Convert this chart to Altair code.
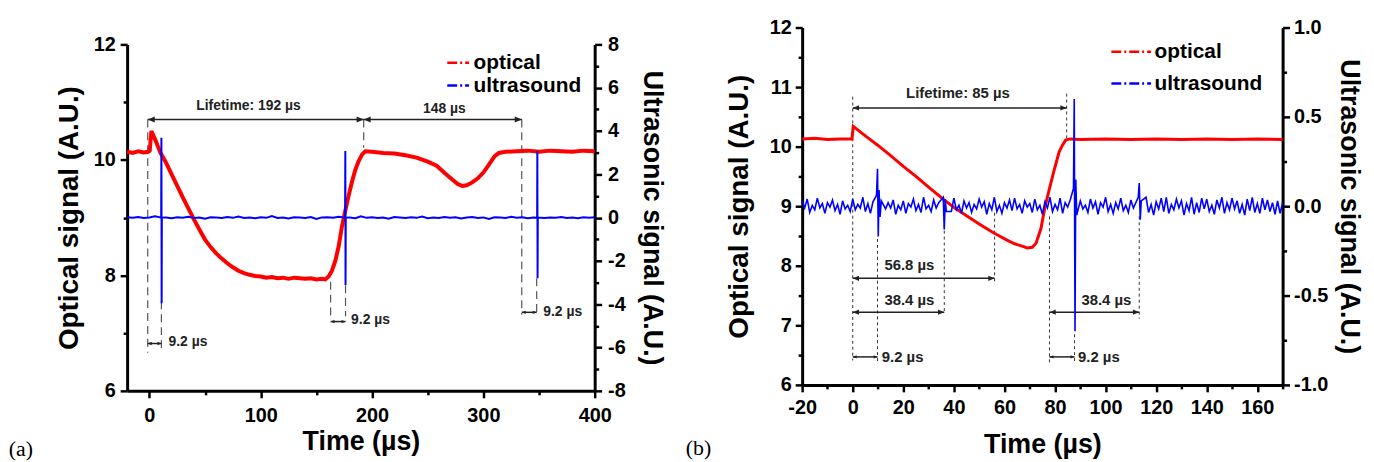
import altair as alt
import pandas as pd

FONT = "Liberation Sans"
SERIF = "Liberation Serif"

# ---------------- Panel (a) data ----------------
a_opt_t = [-20, -15, -10, -5, -1, 0.3, 1.8, 5, 10, 15,
           20, 25, 30, 35, 40, 45, 50, 55, 60, 65,
           70, 75, 80, 85, 90, 95, 100, 105, 110, 115,
           120, 125, 130, 135, 140, 145, 150, 155, 158, 161,
           164, 167, 170, 173, 176, 179, 182, 185, 188, 191,
           194, 200, 210, 220, 230, 240, 250, 258, 266, 272,
           277, 281, 285, 290, 295, 300, 305, 310, 314, 320,
           330, 340, 350, 360, 370, 380, 390, 400]
a_opt_v = [10.14, 10.12, 10.15, 10.13, 10.14, 10.16, 10.50, 10.36, 10.12, 9.95,
           9.75, 9.55, 9.35, 9.16, 8.97, 8.79, 8.62, 8.49, 8.38, 8.29,
           8.21, 8.14, 8.08, 8.04, 8.01, 7.99, 7.98, 7.96, 7.97, 7.95,
           7.96, 7.94, 7.96, 7.95, 7.94, 7.95, 7.93, 7.94, 7.93, 7.98,
           8.08, 8.25, 8.50, 8.85, 9.12, 9.38, 9.62, 9.83, 9.98, 10.09,
           10.15, 10.14, 10.12, 10.11, 10.08, 10.04, 9.97, 9.90, 9.76, 9.66,
           9.58, 9.55, 9.56, 9.61, 9.68, 9.78, 9.92, 10.06, 10.12, 10.14,
           10.15, 10.16, 10.14, 10.16, 10.15, 10.14, 10.16, 10.15]

a_us_grid = list(range(-20, 401, 5))
a_us_noise = [0.02, -0.01, 0.03, -0.02, 0.01, 0.06, -0.02, 0.01, -0.03, 0.02,
              -0.01, 0.04, -0.02, 0.01, -0.05, 0.02, 0.01, -0.02, 0.03, -0.01,
              0.05, -0.02, 0.01, -0.03, 0.02, -0.01, 0.07, -0.02, 0.01, -0.04,
              0.02, 0.01, -0.02, 0.03, -0.06, 0.01, 0.02, -0.01, 0.04, -0.02,
              0.01, -0.03, 0.06, -0.01, 0.02, -0.02, 0.01, -0.05, 0.03, 0.01,
              -0.02, 0.02, -0.01, 0.05, -0.03, 0.01, -0.02, 0.03, -0.01, 0.02,
              -0.04, 0.01, 0.03, -0.02, 0.01, -0.06, 0.02, 0.01, -0.02, 0.04,
              -0.01, 0.02, -0.03, 0.01, 0.05, -0.02, 0.01, -0.01, 0.03, -0.02,
              0.01, -0.03, 0.02, -0.01, 0.02]
a_spk_t = [10.6, 10.8, 11.0, 11.2, 175.8, 176.0, 176.2, 176.4, 348.3, 348.5, 348.7, 348.9]
a_spk_v = [0.0, 3.69, -3.95, 0.0, 0.0, 3.08, -3.11, 0.0, 0.0, 3.08, -2.80, 0.0]

a_dash_t = [-1.5, 10.8, 162.8, 176.2, 192.5, 334.5, 347.9]
a_dash_top = [10.70, 7.55, 7.89, 7.83, 10.70, 10.70, 7.95]
a_dash_bot = [6.66, 6.66, 7.29, 7.29, 10.21, 7.32, 7.32]
a_arr_t1 = [-1.5, 192.5]
a_arr_t2 = [192.5, 334.5]
a_arr_y = [10.70, 10.70]
a_sarr_t1 = [-1.5, 162.8, 334.5]
a_sarr_t2 = [10.8, 176.2, 347.9]
a_sarr_y = [6.82, 7.20, 7.36]
a_lab_text = ["Lifetime: 192 \u00b5s", "148 \u00b5s"]
a_lab_t = [89, 265]
a_lab_y = [10.93, 10.88]
a_slab_text = ["9.2 \u00b5s", "9.2 \u00b5s", "9.2 \u00b5s"]
a_slab_t = [17.2, 181.2, 353.8]
a_slab_y = [6.84, 7.22, 7.37]

# ---------------- Panel (b) data ----------------
b_opt_t = [-20, -15, -10, -5, -0.3, 0.2, 5, 10, 15, 20,
           25, 30, 36, 40, 45, 50, 55, 58, 61, 64,
           67, 69, 71, 72.5, 74.4, 76.1, 78, 79.5, 81.6, 83,
           84.2, 86, 90, 100, 110, 120, 130, 140, 150, 160,
           170]
b_opt_v = [10.13, 10.14, 10.12, 10.13, 10.13, 10.34, 10.18, 10.02, 9.85, 9.67,
           9.50, 9.32, 9.11, 8.98, 8.84, 8.70, 8.57, 8.50, 8.43, 8.37,
           8.33, 8.30, 8.31, 8.38, 8.62, 9.00, 9.33, 9.58, 9.91, 10.03,
           10.11, 10.13, 10.12, 10.13, 10.12, 10.13, 10.12, 10.13, 10.12, 10.13,
           10.12]

b_us_grid = list(range(-20, 171, 1))
b_us_noise = [0.03, -0.01, 0.04, -0.035, 0.005, -0.02, 0.045, -0.01, 0.015, -0.04,
              0.02, -0.005, 0.035, -0.025, 0.01, -0.045, 0.03, -0.015, 0.005, -0.03,
              0.04, -0.02, 0.01, -0.01, 0.05, -0.03, 0.015, -0.04, 0.025, -0.005,
              0.01, -0.035, 0.045, -0.015, 0.02, -0.01, 0.035, -0.045, 0.005, -0.02,
              0.03, -0.04, 0.015, -0.005, 0.04, -0.025, 0.01, -0.035, 0.05, -0.015,
              0.005, -0.03, 0.035, -0.01, 0.02, -0.045, 0.04, -0.005, 0.015, -0.03,
              0.045, -0.02, 0.005, -0.04, 0.03, -0.01, 0.02, -0.035, 0.01, -0.015,
              0.04, -0.005, 0.025, -0.045, 0.015, -0.02, 0.05, -0.03, 0.005, -0.04,
              0.02, -0.01, 0.035, -0.025, 0.045, -0.015, 0.01, -0.04, 0.03, -0.005,
              0.015, -0.035, 0.04, -0.02, 0.005, -0.045, 0.025, -0.01, 0.05, -0.03,
              0.01, -0.02, 0.045, -0.04, 0.02, -0.005, 0.035, -0.03, 0.015, -0.045,
              0.03, -0.015, 0.005, -0.035, 0.04, -0.01, 0.025, -0.045, 0.02, -0.005,
              0.05, -0.03, 0.01, -0.04, 0.02, -0.015, 0.045, -0.025, 0.005, -0.035,
              0.035, -0.01, 0.04, -0.045, 0.015, -0.02, 0.05, -0.035, 0.01, -0.05,
              0.025, -0.015, 0.045, -0.03, 0.05, -0.04, 0.01, -0.02, 0.04, -0.01,
              0.03, -0.05, 0.015, -0.025, 0.05, -0.045, 0.02, -0.035, 0.045, -0.015,
              0.04, -0.03, 0.005, -0.045, 0.035, -0.01, 0.05, -0.04, 0.02, -0.02,
              0.045, -0.015, 0.03, -0.04, 0.01, -0.05, 0.04, -0.025, 0.05, -0.035,
              0.015, -0.04, 0.045, -0.02, 0.035, -0.03, 0.02, -0.045, 0.03, -0.04,
              0.02]
b_spk_t = [9.4, 9.8, 10.1, 10.4, 10.8, 11.3, 35.8, 36.2, 36.6, 37.0,
           87.3, 87.6, 87.9, 88.2, 88.6, 112.9, 113.3, 113.7, 114.1]
b_spk_v = [0.06, 0.21, -0.17, 0.09, -0.06, 0.03, 0.05, -0.13, 0.04, -0.03,
           0.10, 0.60, -0.70, 0.15, -0.05, 0.05, 0.13, -0.075, 0.03]

b_dash_t = [0, 9.8, 36.2, 56.1, 77.8, 84.6, 87.7, 113.3]
b_dash_top = [10.84, 8.45, 8.89, 8.89, 8.83, 10.89, 6.85, 8.83]
b_dash_bot = [6.41, 6.39, 7.19, 7.72, 6.33, 10.14, 6.39, 7.11]
b_arr_t1 = [0, 0, 0, 77.8]
b_arr_t2 = [84.6, 56.1, 36.2, 113.3]
b_arr_y = [10.65, 7.79, 7.22, 7.22]
b_sarr_t1 = [0, 77.8]
b_sarr_t2 = [9.8, 87.7]
b_sarr_y = [6.47, 6.47]
b_lab_text = ["Lifetime: 85 \u00b5s", "56.8 \u00b5s", "38.4 \u00b5s", "38.4 \u00b5s"]
b_lab_t = [41.6, 22.4, 22.4, 100.3]
b_lab_y = [10.90, 8.01, 7.43, 7.43]
b_slab_text = ["9.2 \u00b5s", "9.2 \u00b5s"]
b_slab_t = [11.5, 89.1]
b_slab_y = [6.47, 6.47]

SERIES = ["optical", "ultrasound"]
COLORS = ["#ff0000", "#0000ff"]

RIGHT_HEAD = "M0,0L-1,-0.42L-1,0.42Z"
LEFT_HEAD = "M0,0L1,-0.42L1,0.42Z"


def us_frame(grid, noise, spk_t, spk_v, gap):
    rows = [(t, v) for t, v in zip(grid, noise) if all(abs(t - s) > gap for s in spk_t)]
    rows += list(zip(spk_t, spk_v))
    df = pd.DataFrame(rows, columns=["t", "v"]).sort_values("t").reset_index(drop=True)
    df["series"] = "ultrasound"
    return df


def cond(test, big, small):
    return {"condition": {"test": test, "value": big}, "value": small}


def lab(test, fmt):
    return f"{test} ? (datum.value < 0 ? '-' : '') + format(abs(datum.value), '{fmt}') : ''"


def make_panel(d, p):
    xs = alt.Scale(domain=p["xdom"], nice=False, zero=False)
    yls = alt.Scale(domain=[6, 12], nice=False, zero=False)
    yrs = alt.Scale(domain=p["yrdom"], nice=False, zero=False)
    xax = alt.Axis(title="Time (\u00b5s)", values=p["xvals"], labelExpr=lab(p["xmaj"], "d"),
                   tickSize=cond(p["xmaj"], 7, 4), labelFlush=False, labelOverlap=False,
                   labelPadding=p["xlp"], titlePadding=p["xtp"])
    ylax = alt.Axis(title="Optical signal (A.U.)", values=p["ylvals"], labelExpr=lab(p["ylmaj"], "d"),
                    tickSize=cond(p["ylmaj"], 7, 4), labelOverlap=False, titleFontSize=28,
                    labelPadding=p["ylp"], titlePadding=p["ytp"])
    yrax = alt.Axis(title="Ultrasonic signal (A.U.)", orient="right", values=p["yrvals"],
                    labelExpr=lab(p["yrmaj"], p["yrfmt"]), tickSize=cond(p["yrmaj"], 7, 4),
                    labelOverlap=False, labelPadding=p["yrlp"], titlePadding=p["yrtp"])

    def X(f):
        return alt.X(f, type="quantitative", scale=xs, axis=xax)

    def YL(f):
        return alt.Y(f, type="quantitative", scale=yls, axis=ylax)

    cscale = alt.Scale(domain=SERIES, range=COLORS)
    leg = alt.Legend(title=None, orient="none", legendX=p["legx"], legendY=p["legy"],
                     symbolType="stroke", symbolSize=p["symsize"], symbolStrokeWidth=2.5,
                     symbolDash=[10, 3, 2, 3], labelFont=FONT, labelFontSize=21,
                     labelFontWeight="bold", labelColor="black", padding=0,
                     rowPadding=0, labelOffset=p["laboff"])

    opt = pd.DataFrame({"t": d["opt_t"], "v": d["opt_v"], "series": "optical"})
    us = us_frame(d["us_grid"], d["us_noise"], d["spk_t"], d["spk_v"], p["gap"])
    dash = pd.DataFrame({"t": d["dash_t"], "top": d["dash_top"], "bot": d["dash_bot"]})
    arr = pd.DataFrame({"t1": d["arr_t1"], "t2": d["arr_t2"], "y": d["arr_y"]})
    sarr = pd.DataFrame({"t1": d["sarr_t1"], "t2": d["sarr_t2"], "y": d["sarr_y"]})
    labs = pd.DataFrame({"t": d["lab_t"], "y": d["lab_y"], "text": d["lab_text"]})
    slabs = pd.DataFrame({"t": d["slab_t"], "y": d["slab_y"], "text": d["slab_text"]})

    dash_l = alt.Chart(dash).mark_rule(color=p["dashcol"], strokeDash=p["dash"], strokeWidth=p["dashw"]).encode(
        x=X("t"), y=YL("top"), y2=alt.Y2("bot"))
    layers = [dash_l]
    for frame, size in ((arr, p["headbig"]), (sarr, p["headsmall"])):
        layers.append(alt.Chart(frame).mark_rule(color="#222222", strokeWidth=1.5).encode(
            x=X("t1"), x2=alt.X2("t2"), y=YL("y")))
        layers.append(alt.Chart(frame).mark_point(shape=LEFT_HEAD, size=size, filled=True, opacity=1,
                                                  color="#222222", strokeWidth=0).encode(x=X("t1"), y=YL("y")))
        layers.append(alt.Chart(frame).mark_point(shape=RIGHT_HEAD, size=size, filled=True, opacity=1,
                                                  color="#222222", strokeWidth=0).encode(x=X("t2"), y=YL("y")))
    layers.append(alt.Chart(labs).mark_text(font=FONT, fontWeight="bold", fontSize=p["annfs"], color="#222222",
                                            align="center", baseline="middle").encode(
        x=X("t"), y=YL("y"), text="text:N"))
    layers.append(alt.Chart(slabs).mark_text(font=FONT, fontWeight="bold", fontSize=p["annfs"], color="#222222",
                                             align="left", baseline="middle").encode(
        x=X("t"), y=YL("y"), text="text:N"))
    layers.append(alt.Chart(opt).mark_line(strokeWidth=p["redw"]).encode(
        x=X("t"), y=YL("v"), color=alt.Color("series:N", scale=cscale, legend=leg)))
    inner = alt.layer(*layers)
    us_l = alt.Chart(us).mark_line(strokeWidth=p["bluew"]).encode(
        x=X("t"), y=alt.Y("v", type="quantitative", scale=yrs, axis=yrax),
        color=alt.Color("series:N", scale=cscale, legend=leg))
    title = alt.TitleParams(text=p["tag"], orient="bottom", anchor="start", frame="bounds", font=SERIF,
                            fontSize=22, fontWeight="normal", color="black", offset=p["toff"], dx=p["tdx"])
    return alt.layer(inner, us_l).resolve_scale(y="independent").properties(
        width=p["w"], height=p["h"], title=title)


data_a = dict(opt_t=a_opt_t, opt_v=a_opt_v, us_grid=a_us_grid, us_noise=a_us_noise,
              spk_t=a_spk_t, spk_v=a_spk_v, dash_t=a_dash_t, dash_top=a_dash_top, dash_bot=a_dash_bot,
              arr_t1=a_arr_t1, arr_t2=a_arr_t2, arr_y=a_arr_y, sarr_t1=a_sarr_t1, sarr_t2=a_sarr_t2,
              sarr_y=a_sarr_y, lab_text=a_lab_text, lab_t=a_lab_t, lab_y=a_lab_y,
              slab_text=a_slab_text, slab_t=a_slab_t, slab_y=a_slab_y)
data_b = dict(opt_t=b_opt_t, opt_v=b_opt_v, us_grid=b_us_grid, us_noise=b_us_noise,
              spk_t=b_spk_t, spk_v=b_spk_v, dash_t=b_dash_t, dash_top=b_dash_top, dash_bot=b_dash_bot,
              arr_t1=b_arr_t1, arr_t2=b_arr_t2, arr_y=b_arr_y, sarr_t1=b_sarr_t1, sarr_t2=b_sarr_t2,
              sarr_y=b_sarr_y, lab_text=b_lab_text, lab_t=b_lab_t, lab_y=b_lab_y,
              slab_text=b_slab_text, slab_t=b_slab_t, slab_y=b_slab_y)

pa = dict(xdom=[-20, 400], yrdom=[-8, 8], xvals=list(range(0, 401, 50)), xmaj="datum.value % 100 == 0",
          ylvals=list(range(6, 13)), ylmaj="datum.value % 2 == 0",
          yrvals=list(range(-8, 9)), yrmaj="datum.value % 2 == 0", yrfmt="d",
          xlp=8, xtp=3, ylp=5, ytp=10, yrlp=6, yrtp=12,
          legx=321, legy=23, symsize=484, laboff=3, gap=3,
          dashcol="#555555", dash=[8, 5], dashw=1.2, headbig=200, headsmall=64,
          annfs=14, redw=4, bluew=2, tag="(a)", toff=-15, tdx=-47, w=471, h=349)
pb = dict(xdom=[-20, 170], yrdom=[-1, 1], xvals=list(range(-20, 171, 10)), xmaj="datum.value % 20 == 0",
          ylvals=[6 + 0.5 * i for i in range(13)], ylmaj="datum.value % 1 == 0",
          yrvals=[-1 + 0.25 * i for i in range(9)], yrmaj="abs(datum.value*2 - round(datum.value*2)) < 0.001",
          yrfmt=".1f",
          xlp=6, xtp=14, ylp=4, ytp=16, yrlp=4, yrtp=7,
          legx=310, legy=3, symsize=1600, laboff=2, gap=1.0,
          dashcol="#333333", dash=[3, 3], dashw=1, headbig=160, headsmall=64,
          annfs=15, redw=3, bluew=1.6, tag="(b)", toff=-19, tdx=-40, w=484, h=360)

panel_a = make_panel(data_a, pa)
panel_b = make_panel(data_b, pb)

spacer = alt.Chart(pd.DataFrame({"z": [0]})).mark_point(opacity=0).properties(width=10, height=7)
col_a = alt.vconcat(spacer, panel_a, spacing=0)

chart = alt.hconcat(col_a, panel_b, spacing=20).resolve_scale(color="independent").resolve_legend(
    color="independent").properties(padding={"left": 0, "top": 8, "right": 3, "bottom": 0}).configure_view(
    stroke=None).configure_axis(
    domainColor="black", domainWidth=3, tickColor="black", tickWidth=2.5, grid=False,
    labelFont=FONT, labelFontSize=20, labelFontWeight="bold", labelColor="black",
    titleFont=FONT, titleFontSize=27, titleFontWeight="bold", titleColor="black")

chart.save("out.html", embed_options={"renderer": "svg", "actions": False})
